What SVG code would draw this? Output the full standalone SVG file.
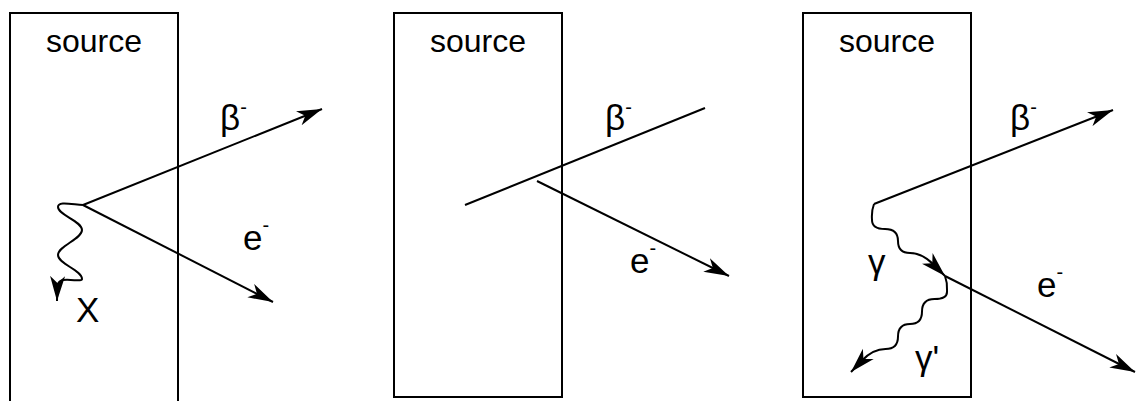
<svg xmlns="http://www.w3.org/2000/svg" width="1136" height="401" viewBox="0 0 1136 401">
<style>
.box{fill:none;stroke:#000;stroke-width:2}
.ln{fill:none;stroke:#000;stroke-width:2}
.arr{marker-end:url(#ah)}
text{font-family:"Liberation Sans",Arial,Helvetica,sans-serif;fill:#000}
.src{font-size:32px;text-anchor:middle}
.lbl{font-size:35px}
.sup{font-size:20px}
</style>
<defs>
<marker id="ah" viewBox="0 0 30 16" markerWidth="30" markerHeight="16" refX="25" refY="8" orient="auto" markerUnits="userSpaceOnUse">
<path d="M25,8 L0,0.5 L7,8 L0,15.5 Z" fill="#000"/>
</marker>
</defs>
<rect width="1136" height="401" fill="#fff"/>
<g id="source1">
<path class="box" d="M10,402 V13 H178 V402"/>
<text class="src" x="94" y="52">source</text>
</g>
<g id="source2">
<rect class="box" x="394" y="13" width="168" height="384"/>
<text class="src" x="478" y="52">source</text>
</g>
<g id="source3">
<rect class="box" x="803" y="13" width="168" height="384"/>
<text class="src" x="887" y="52">source</text>
</g>
<g id="connectors">
<line class="ln arr" x1="83" y1="205" x2="322" y2="109"/>
<line class="ln arr" x1="83" y1="205" x2="273" y2="302"/>
<path class="ln arr" d="M83,205 C70,204 58,201 58,207 C58,215 82,221 82,230 C82,239 58,246 58,255 C58,264 82,270 82,279 C82,282 72,279 63,280 Q57.5,281 57.3,288 L57,301"/>
<line class="ln" x1="465" y1="205" x2="705" y2="108"/>
<line class="ln arr" x1="537" y1="181" x2="729" y2="276"/>
<line class="ln arr" x1="874" y1="204" x2="1113" y2="110"/>
<path class="ln arr" d="M874,204 C871,212 872,218 872,220 Q872,229 885,229 Q898,229 898,241 Q898,253 910,253 Q922,253 933.5,264.5 L945,276"/>
<line class="ln arr" x1="945" y1="276" x2="1135" y2="372"/>
<path class="ln arr" d="M945,276 C948,284 947,290 947,292 Q947,299 934.5,299 Q922,299 922,311.5 Q922,324 910,324 Q898,324 898,336.5 Q898,349 885.5,349 Q873,349 862,360.5 L851,372"/>
</g>
<g id="labels">
<text class="lbl" x="220" y="130">β<tspan class="sup" dy="-16">-</tspan></text>
<text class="lbl" x="243" y="250">e<tspan class="sup" dy="-18">-</tspan></text>
<text class="lbl" x="76" y="322">X</text>
<text class="lbl" x="605" y="130">β<tspan class="sup" dy="-16">-</tspan></text>
<text class="lbl" x="630" y="273">e<tspan class="sup" dy="-18">-</tspan></text>
<text class="lbl" x="1010" y="130">β<tspan class="sup" dy="-16">-</tspan></text>
<text class="lbl" x="1037" y="297">e<tspan class="sup" dy="-18">-</tspan></text>
<text class="lbl" x="868" y="274">γ</text>
<text class="lbl" x="915" y="370">γ'</text>
</g>
</svg>
